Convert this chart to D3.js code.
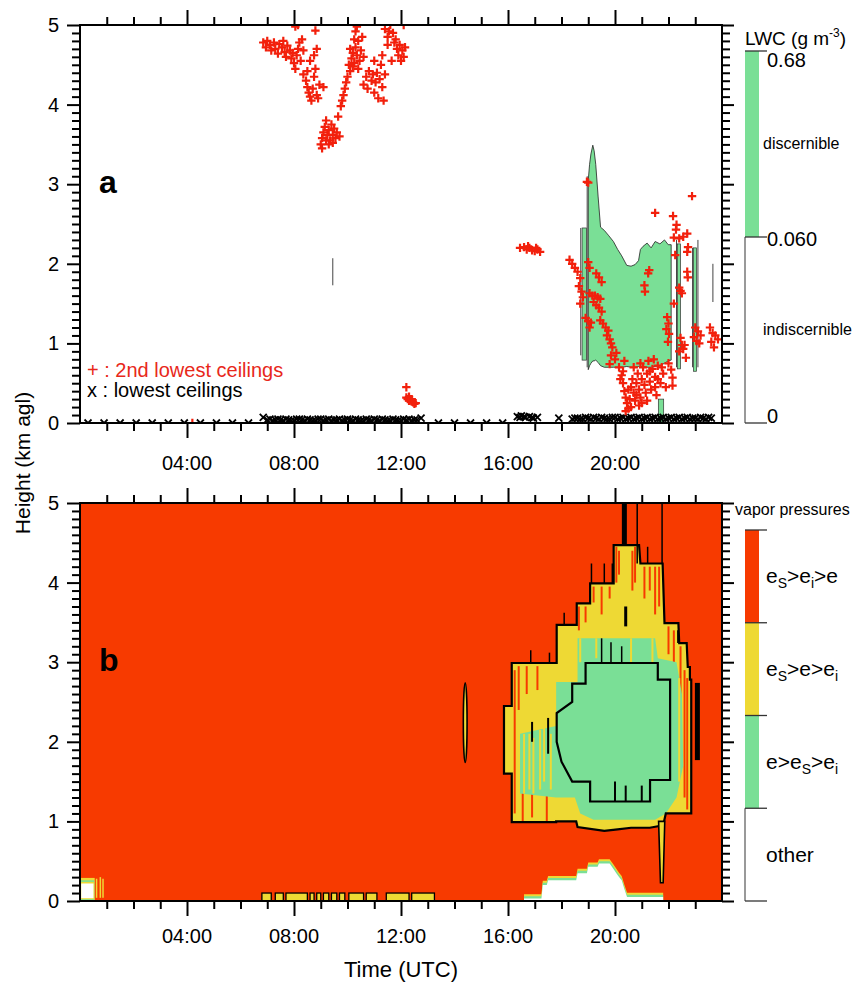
<!DOCTYPE html>
<html>
<head>
<meta charset="utf-8">
<script src="https://cdn.jsdelivr.net/npm/d3@7"></script>
<style>
  body { margin: 0; background: #fff; }
  svg { display: block; font-family: "Liberation Sans", Arial, Helvetica, sans-serif; }
</style>
</head>
<body>
<svg id="chart" width="858" height="983"></svg>
<script>
// ---------- axis ticks ----------
const timeTicks = [4, 8, 12, 16, 20];
const timeLabels = ["04:00", "08:00", "12:00", "16:00", "20:00"];
const heightTicks = [0, 1, 2, 3, 4, 5];

// ---------- panel a: liquid water content (g m-3) ----------
const lwcTime = [19.00, 19.05, 19.10, 19.17, 19.22, 19.28, 19.37, 19.46, 19.60, 19.75, 19.94, 20.10, 20.25, 20.44, 20.60, 20.75, 20.88, 20.95, 21.05, 21.20, 21.35, 21.50, 21.68, 21.85, 21.99, 22.10];
const lwcTop  = [3.05, 3.25, 3.38, 3.49, 3.42, 3.25, 2.84, 2.46, 2.42, 2.36, 2.28, 2.18, 2.10, 1.98, 1.97, 1.99, 2.04, 2.18, 2.22, 2.26, 2.20, 2.28, 2.25, 2.30, 2.24, 2.24];
const lwcBase = [0.67, 0.72, 0.75, 0.78, 0.78, 0.79, 0.76, 0.72, 0.70, 0.70, 0.70, 0.70, 0.70, 0.71, 0.70, 0.70, 0.71, 0.70, 0.71, 0.70, 0.70, 0.71, 0.72, 0.75, 0.78, 0.79];
// narrow cloudy columns: [start, end, base, top]
const lwcColumns = [[18.77, 18.93, 0.79, 2.45], [22.33, 22.45, 0.68, 2.25], [22.93, 23.05, 0.65, 2.20], [21.62, 21.82, 0.0, 0.30]];
// isolated thin returns: [time, base, top]
const lwcTraces = [[9.45, 1.73, 2.07], [23.66, 1.52, 2.0], [18.72, 0.85, 2.45], [18.96, 0.70, 3.10], [22.30, 0.70, 2.30], [22.90, 0.70, 2.20], [23.10, 0.70, 2.30]];

// lowest ceilings [time h, height km]
const ceil1 = [
  [0.3,0],[0.9,0],[1.5,0],[2.1,0],[2.7,0],[3.3,0],[3.9,0],[4.5,0],[5.1,0],[5.7,0],[6.3,0],
  [6.85,0.07],[7.0,0.04],[7.1,0.05],[7.2,0.03],[7.3,0.04],[7.4,0.05],[7.5,0.04],[7.6,0.03],[7.7,0.05],[7.8,0.04],[7.9,0.03],
  [8.0,0.03],[8.1,0.05],[8.2,0.05],[8.3,0.04],[8.4,0.03],[8.5,0.05],[8.6,0.04],[8.7,0.03],[8.8,0.03],[8.9,0.05],
  [9.0,0.05],[9.1,0.03],[9.2,0.04],[9.3,0.05],[9.4,0.03],[9.5,0.04],[9.6,0.04],[9.7,0.05],[9.8,0.03],[9.9,0.04],
  [10.0,0.05],[10.1,0.04],[10.2,0.03],[10.3,0.05],[10.4,0.04],[10.5,0.03],[10.6,0.03],[10.7,0.05],[10.8,0.04],[10.9,0.03],
  [11.0,0.05],[11.1,0.04],[11.2,0.03],[11.3,0.05],[11.4,0.04],[11.5,0.03],[11.6,0.03],[11.7,0.05],[11.8,0.04],[11.9,0.03],
  [12.0,0.03],[12.1,0.05],[12.2,0.04],[12.3,0.05],[12.4,0.03],[12.5,0.04],[12.6,0.04],[12.75,0.06],
  [13.4,0],[14.0,0],[14.6,0],[15.2,0],[15.8,0],
  [16.35,0.08],[16.45,0.07],[16.5,0.09],[16.6,0.08],[16.65,0.07],[16.8,0.08],[16.9,0.07],[16.95,0.06],[17.1,0.07],[17.9,0.06],
  [18.4,0.05],[18.5,0.06],[18.6,0.06],[18.7,0.05],[18.8,0.05],[18.9,0.07],[19.0,0.06],[19.1,0.05],[19.2,0.07],[19.3,0.06],
  [19.4,0.05],[19.5,0.07],[19.6,0.06],[19.7,0.05],[19.8,0.05],[19.9,0.07],[20.0,0.07],[20.1,0.05],[20.2,0.06],[20.3,0.07],
  [20.4,0.05],[20.5,0.06],[20.6,0.07],[20.7,0.05],[20.8,0.06],[20.9,0.07],[21.0,0.05],[21.1,0.06],[21.2,0.07],[21.3,0.05],
  [21.4,0.06],[21.5,0.07],[21.6,0.05],[21.7,0.06],[21.8,0.07],[21.9,0.05],[22.0,0.06],[22.1,0.07],[22.2,0.05],[22.3,0.06],
  [22.4,0.07],[22.5,0.05],[22.6,0.06],[22.7,0.07],[22.8,0.05],[22.9,0.06],[23.0,0.06],[23.1,0.05],[23.2,0.07],[23.3,0.06],
  [23.4,0.05],[23.5,0.07],[23.6,0.06]
];

// 2nd lowest ceilings, morning layer aloft
const ceil2Morning = [
  [6.85,4.78],[6.95,4.72],[7.0,4.80],[7.1,4.75],[7.15,4.68],[7.25,4.78],[7.3,4.70],[7.4,4.64],[7.45,4.76],[7.55,4.72],
  [7.6,4.80],[7.65,4.66],[7.7,4.60],[7.75,4.74],[7.85,4.68],[7.9,4.58],[7.95,4.65],[8.0,4.52],[8.05,4.45],[8.1,4.62],
  [8.15,4.70],[8.2,4.78],[8.25,4.55],[8.3,4.82],[8.35,4.68],[8.05,4.98],[8.15,5.0],
  [8.35,4.38],[8.45,4.30],[8.5,4.22],[8.55,4.15],[8.6,4.10],[8.65,4.05],[8.7,4.20],[8.75,4.35],[8.8,4.45],[8.85,4.12],
  [8.9,4.08],[8.95,4.25],[8.6,4.55],[8.75,4.62],[8.8,4.93],[8.85,4.70],[8.5,4.42],[9.1,4.22],
  [9.0,3.50],[9.05,3.58],[9.1,3.65],[9.15,3.72],[9.2,3.80],[9.25,3.62],[9.3,3.68],[9.35,3.55],[9.4,3.75],[9.45,3.62],
  [9.5,3.70],[9.55,3.58],[9.6,3.65],[9.65,3.85],[9.7,3.60],[9.3,3.50],[9.2,3.55],[9.05,3.45],[9.45,3.52],
  [9.75,3.98],[9.8,4.05],[9.85,4.12],[9.9,4.20],[9.95,4.28],[10.0,4.35],[10.05,4.50],[10.1,4.42],[10.15,4.58],[10.2,4.65],
  [10.25,4.52],[10.3,4.72],[10.35,4.62],[10.4,4.80],[10.45,4.55],[10.5,4.68],[10.3,4.92],[10.55,4.85],[10.2,4.48],[10.6,4.60],
  [10.1,4.70],[10.25,4.82],[10.4,4.45],[10.35,4.98],
  [10.6,4.25],[10.7,4.35],[10.75,4.20],[10.8,4.42],[10.9,4.30],[10.95,4.38],[11.0,4.15],[11.05,4.28],[11.1,4.40],[11.15,4.08],
  [11.2,4.32],[11.25,4.50],[11.3,4.22],[11.35,4.05],[11.4,4.38],[11.0,4.55],[11.3,4.62],
  [11.4,4.95],[11.5,4.85],[11.55,4.92],[11.6,5.0],[11.7,4.90],[11.75,4.78],[11.8,4.82],[11.85,4.70],[11.9,4.62],[11.95,4.75],
  [12.0,4.55],[12.05,4.68],[12.1,4.60],[12.15,4.72],[11.5,4.75],[12.1,5.0],[11.65,4.55]
];
// 2nd lowest ceilings, midday near the surface and at 2 km
const ceil2Midday = [
  [4.2,0.0],[12.2,0.45],[12.2,0.32],[12.25,0.30],[12.3,0.28],[12.35,0.30],[12.4,0.27],[12.45,0.26],[12.5,0.24],[12.55,0.25],
  [12.3,0.33],[12.4,0.30],
  [16.45,2.20],[16.6,2.21],[16.7,2.18],[16.8,2.20],[16.9,2.17],[17.0,2.16],[17.1,2.18],[17.2,2.15],[16.75,2.22],[17.05,2.20]
];
// 2nd lowest ceilings, evening cloud
const ceil2Evening = [
  [18.95,3.03],[19.0,3.02],[22.88,2.85],[21.5,2.64],[22.17,2.60],[22.3,2.49],[22.28,2.43],[22.2,2.33],[22.4,2.32],[22.55,2.34],
  [22.7,2.38],[22.73,2.21],[22.7,2.15],[22.25,2.11],[21.24,1.88],[21.28,1.92],[21.1,1.73],[21.12,1.65],[22.7,1.9],[22.72,1.83],
  [22.4,1.7],[22.45,1.66],[22.5,1.63],[22.2,1.5],[21.95,1.33],[22.0,1.25],[21.92,1.18],[22.02,1.12],[21.98,1.02],[22.45,1.07],
  [22.5,0.98],[22.55,0.93],[22.4,0.9],[22.65,0.82],[22.6,0.98],[23.0,1.2],[23.1,1.15],[23.2,1.1],[22.95,1.08],[23.05,1.03],
  [23.15,1.0],[23.55,1.2],[23.65,1.13],[23.75,1.1],[23.6,1.02],[23.85,1.05],[23.7,0.95],[22.1,0.67],[22.15,0.57],[22.15,0.47],
  [18.3,2.05],[18.4,2.0],[18.5,1.95],[18.6,1.9],[18.7,1.82],[18.65,1.72],[18.75,1.65],[18.8,1.58],[18.7,1.5],[19.0,2.02],
  [19.05,1.95],[19.3,1.88],[19.4,1.83],[19.5,1.77],[19.05,1.63],[19.15,1.6],[19.25,1.6],[19.35,1.58],[19.45,1.56],[19.2,1.52],
  [19.3,1.48],[19.4,1.45],[19.5,1.4],[18.9,1.32],[19.0,1.28],[19.1,1.26],[19.05,1.2],[19.45,1.29],[19.55,1.25],[19.65,1.2],
  [19.75,1.16],[19.7,1.1],[19.8,1.05],[19.85,1.0],[19.9,0.95],[19.85,0.85],[20.0,0.8],[19.8,0.74],[20.05,0.88],
  [20.15,0.70],[20.25,0.60],[20.3,0.50],[20.35,0.40],[20.4,0.32],[20.45,0.25],[20.5,0.18],[20.55,0.30],[20.6,0.45],[20.65,0.55],
  [20.7,0.38],[20.75,0.28],[20.8,0.50],[20.85,0.62],[20.9,0.42],[20.95,0.32],[21.0,0.55],[21.05,0.70],[21.1,0.48],[21.15,0.38],
  [21.2,0.62],[21.25,0.78],[21.3,0.52],[21.35,0.42],[21.4,0.68],[21.45,0.80],[21.5,0.58],[21.55,0.35],[21.6,0.72],[21.7,0.50],
  [21.8,0.62],[21.9,0.45],[22.0,0.75],[20.4,0.15],[20.6,0.20],[20.9,0.22],[21.2,0.28],[21.5,0.45],[20.3,0.65],[20.7,0.70],
  [20.2,0.55],[20.5,0.42],[20.8,0.35],[21.0,0.25],[21.3,0.65],[21.6,0.55],[21.75,0.7],[20.35,0.78],[20.95,0.75]
];

// ---------- panel b: vapor pressure regimes ----------
// outer contour of the supersaturated-over-ice region [time, height]
const outerZone = [
  [16.14,2.99],[17.82,2.99],[17.82,3.47],[18.57,3.47],[18.57,3.74],[19.07,3.74],[19.07,3.99],[19.95,3.99],[19.95,4.47],
  [20.9,4.47],[20.95,4.24],[21.78,4.24],[21.85,3.49],[22.37,3.49],[22.4,3.24],[22.68,3.24],[22.72,2.94],[22.8,2.94],
  [22.8,2.78],[22.85,2.78],[22.85,1.10],[21.9,1.10],[21.8,0.95],[21.3,0.92],[20.6,0.92],[20.1,0.90],[19.6,0.88],
  [18.6,0.93],[18.55,1.0],[17.8,1.0],[17.8,0.99],[16.14,0.99],[16.14,1.6],[15.85,1.6],[15.85,2.45],[16.14,2.45]
];
// band where e > eS inside the outer contour
const ringZone = [
  [16.45,2.1],[17.8,2.2],[17.8,2.75],[18.6,2.75],[18.6,3.3],[21.5,3.3],[21.6,3.05],[22.3,3.0],[22.5,2.6],[22.55,1.7],
  [22.3,1.3],[21.9,1.1],[21.5,1.02],[19.2,1.02],[18.7,1.1],[18.5,1.3],[17.8,1.3],[16.45,1.35]
];
// inner contour of the liquid-saturated core
const innerZone = [
  [18.9,2.99],[21.6,2.99],[21.6,2.78],[22.06,2.78],[22.06,1.52],[21.31,1.52],[21.31,1.25],[19.07,1.25],[19.07,1.5],
  [18.4,1.5],[18.0,1.75],[17.82,2.0],[17.82,2.36],[18.4,2.5],[18.4,2.73],[18.9,2.73]
];
// columns of eS>ei>e inside the outer region [time, base, top]
const subsatStreaks = [
  [16.25,1.1,2.9],[16.4,2.4,2.95],[16.55,1.0,1.6],[16.7,2.6,2.95],[16.9,1.05,1.45],[17.1,2.65,2.95],[17.45,1.0,1.4],
  [18.65,3.4,3.7],[18.9,3.5,3.7],[19.2,3.75,3.95],[19.5,3.6,3.95],[19.8,3.8,3.95],[20.05,4.0,4.45],[20.15,4.1,4.4],
  [20.65,3.9,4.4],[20.75,4.0,4.45],[21.1,3.8,4.2],[21.3,3.9,4.2],[21.5,3.6,4.2],[21.65,3.7,4.2],[22.0,3.1,3.45],
  [22.2,3.0,3.4],[22.45,2.5,3.2],[22.6,1.3,2.9],[22.7,1.15,2.8]
];
// columns of eS>e>ei inside the e>eS band [time, base, top]
const ringGaps = [
  [16.6,1.35,2.1],[16.8,1.4,2.1],[16.95,1.35,2.05],[17.2,1.4,2.15],[17.35,1.5,2.2],[17.6,1.4,2.1],
  [18.7,3.0,3.3],[19.3,3.05,3.3],[20.6,3.0,3.3],[21.4,3.0,3.3],[22.4,1.5,2.8]
];
// contour fragments [time, base, top, weight]
const contourSpikes = [
  [20.35,4.47,5.0,5],[20.83,4.24,5.0,1.5],[21.76,4.24,5.0,1.5],[19.12,3.99,4.24,1.5],[19.6,3.99,4.24,1.5],[19.9,3.99,4.24,1.5],
  [18.1,3.47,3.62,1.5],[17.55,2.99,3.12,1.5],[16.85,2.99,3.15,1.5],[20.4,3.45,3.7,3],[21.22,4.24,4.45,1.5],[22.35,3.24,3.4,1.5],
  [23.08,1.77,2.74,5],[19.5,3.0,3.3,1.5],[19.85,3.0,3.25,1.5],[20.25,3.0,3.2,1.5],[17.5,1.85,2.3,2],[16.9,2.0,2.25,2],
  [20.0,1.25,1.5,2],[20.4,1.25,1.45,2],[21.0,1.25,1.45,2]
];
// narrow tongue reaching the surface at 21.7 h
const tongueZone = [[21.63,1.0],[21.7,0.23],[21.8,0.23],[21.86,1.0]];
// isolated cell at 14.4 h
const isolatedCell = { t: 14.4, base: 1.74, top: 2.74, halfWidth: 0.07 };
// "other" region near the surface in the evening
const humpTime   = [16.6, 17.25, 17.3, 17.45, 17.5, 18.55, 18.6, 18.95, 19.0, 19.35, 19.4, 19.8, 19.95, 20.05, 20.15, 20.25, 20.35, 20.45, 21.8];
const humpHeight = [0.03, 0.03, 0.20, 0.20, 0.26, 0.26, 0.35, 0.35, 0.43, 0.43, 0.47, 0.47, 0.40, 0.35, 0.30, 0.26, 0.15, 0.05, 0.05];
// "other" region just after midnight
const earlyCell = { t0: 0.05, t1: 0.55, top: 0.29 };
const earlyStreaks = [[0.62, 0.04, 0.28], [0.76, 0.04, 0.3], [0.86, 0.04, 0.28]];
// shallow eS>e>ei layer at the surface [start, end]
const surfaceLayer = [[6.8,7.15],[7.3,7.6],[7.7,8.5],[8.6,8.75],[8.85,9.0],[9.1,9.3],[9.4,9.6],[9.7,9.9],[10.05,10.6],[10.7,11.1],[11.45,12.3],[12.4,13.25]];

// ---------- legend classes ----------
const lwcBounds = ["0", "0.060", "0.68"];
const lwcClasses = ["indiscernible", "discernible"];
const vaporClasses = [
  [["other", 0]],
  [["e>e", 0], ["S", 1], [">e", 0], ["i", 1]],
  [["e", 0], ["S", 1], [">e>e", 0], ["i", 1]],
  [["e", 0], ["S", 1], [">e", 0], ["i", 1], [">e", 0]]
];

// ---------- drawing ----------
const RED = "#f73a00", YEL = "#eed934", GRN = "#7adf96", CROSS = "#f2200c";
const svg = d3.select("#chart");
const x = d3.scaleLinear().domain([0, 24]).range([80, 722]);
const yA = d3.scaleLinear().domain([0, 5]).range([423, 25]);
const yB = d3.scaleLinear().domain([0, 5]).range([901, 503]);

const defs = svg.append("defs");
function addClip(id, y) {
  defs.append("clipPath").attr("id", id).append("rect")
    .attr("x", x(0)).attr("y", y(5)).attr("width", x(24) - x(0)).attr("height", y(0) - y(5));
}
addClip("clipA", yA);
addClip("clipB", yB);

function vline(g, t, h0, h1, y, color, w) {
  g.append("line").attr("x1", x(t)).attr("x2", x(t)).attr("y1", y(h0)).attr("y2", y(h1))
    .attr("stroke", color).attr("stroke-width", w);
}

// ----- panel a -----
const gA = svg.append("g").attr("clip-path", "url(#clipA)");
const lwcArea = d3.area().x(d => x(d[0])).y0(d => yA(d[2])).y1(d => yA(d[1]));
gA.append("path").datum(d3.zip(lwcTime, lwcTop, lwcBase)).attr("d", lwcArea)
  .attr("fill", GRN).attr("stroke", "#222").attr("stroke-width", 0.8);
gA.selectAll("rect.col").data(lwcColumns).join("rect").attr("class", "col")
  .attr("x", d => x(d[0])).attr("width", d => x(d[1]) - x(d[0]))
  .attr("y", d => yA(d[3])).attr("height", d => yA(d[2]) - yA(d[3]))
  .attr("fill", GRN).attr("stroke", "#333").attr("stroke-width", 0.7);
lwcTraces.forEach(d => vline(gA, d[0], d[1], d[2], yA, "#444", 1));

gA.selectAll("path.c1").data(ceil1).join("path").attr("class", "c1")
  .attr("transform", d => `translate(${x(d[0])},${yA(d[1])})`)
  .attr("d", "M-3.5,-3.5L3.5,3.5M-3.5,3.5L3.5,-3.5")
  .attr("stroke", "#000").attr("stroke-width", 1.8);
gA.selectAll("path.c2").data(ceil2Morning.concat(ceil2Midday, ceil2Evening)).join("path").attr("class", "c2")
  .attr("transform", d => `translate(${x(d[0])},${yA(d[1])})`)
  .attr("d", "M-4.2,0H4.2M0,-4.2V4.2")
  .attr("stroke", CROSS).attr("stroke-width", 2.2);

svg.append("text").attr("x", 87).attr("y", 377).attr("font-size", 20).attr("fill", "#e8281a")
  .text("+ : 2nd lowest ceilings");
svg.append("text").attr("x", 87).attr("y", 397).attr("font-size", 20).attr("fill", "#000")
  .text("x : lowest ceilings");
svg.append("text").attr("x", 99).attr("y", 193).attr("font-size", 32).attr("font-weight", "bold").text("a");

// ----- panel b -----
const gB = svg.append("g").attr("clip-path", "url(#clipB)");
gB.append("rect").attr("x", x(0)).attr("y", yB(5)).attr("width", x(24) - x(0)).attr("height", yB(0) - yB(5)).attr("fill", RED);

// early-morning "other" block
[[YEL, 0, 0], [GRN, 0.015, 0.03], [YEL, 0.03, 0.05], ["#fff", 0.045, 0.07]].forEach(([c, dt, dh]) => {
  gB.append("rect").attr("x", x(earlyCell.t0 - 0.05 + dt)).attr("width", x(earlyCell.t1 - dt) - x(earlyCell.t0 - 0.05 + dt))
    .attr("y", yB(earlyCell.top - dh)).attr("height", yB(dh * 0.5) - yB(earlyCell.top - dh)).attr("fill", c);
});
earlyStreaks.forEach(d => vline(gB, d[0], d[1], d[2], yB, YEL, 1.5));

// surface layer
gB.selectAll("rect.sl").data(surfaceLayer).join("rect").attr("class", "sl")
  .attr("x", d => x(d[0])).attr("width", d => x(d[1]) - x(d[0]))
  .attr("y", yB(0.1)).attr("height", yB(0) - yB(0.1))
  .attr("fill", YEL).attr("stroke", "#000").attr("stroke-width", 1.3);

// evening "other" hump with thin transition layers on top
const humpData = d3.zip(humpTime, humpHeight);
[[YEL, 0.055], [GRN, 0.03], ["#fff", 0]].forEach(([c, off]) => {
  gB.append("path").datum(humpData)
    .attr("d", d3.area().x(d => x(d[0])).y0(yB(0)).y1(d => yB(d[1] + off)))
    .attr("fill", c);
});

const poly = d3.line().x(d => x(d[0])).y(d => yB(d[1]));
gB.append("path").attr("d", poly(outerZone) + "Z").attr("fill", YEL);
subsatStreaks.forEach(d => vline(gB, d[0], d[1], d[2], yB, RED, 2));
gB.append("path").attr("d", poly(ringZone) + "Z").attr("fill", GRN);
ringGaps.forEach(d => vline(gB, d[0], d[1], d[2], yB, YEL, 2));
gB.append("path").attr("d", poly(innerZone) + "Z").attr("fill", GRN);
gB.append("path").attr("d", poly(outerZone) + "Z").attr("fill", "none").attr("stroke", "#000").attr("stroke-width", 2.2);
gB.append("path").attr("d", poly(innerZone) + "Z").attr("fill", "none").attr("stroke", "#000").attr("stroke-width", 2.2);
contourSpikes.forEach(d => vline(gB, d[0], d[1], d[2], yB, "#000", d[3]));
gB.append("path").attr("d", poly(tongueZone) + "Z").attr("fill", YEL).attr("stroke", "#000").attr("stroke-width", 1.6);
gB.append("ellipse")
  .attr("cx", x(isolatedCell.t)).attr("cy", yB((isolatedCell.base + isolatedCell.top) / 2))
  .attr("rx", x(isolatedCell.t + isolatedCell.halfWidth) - x(isolatedCell.t))
  .attr("ry", (yB(isolatedCell.base) - yB(isolatedCell.top)) / 2)
  .attr("fill", YEL).attr("stroke", "#000").attr("stroke-width", 1.6);

svg.append("text").attr("x", 99).attr("y", 671).attr("font-size", 32).attr("font-weight", "bold").text("b");

// ----- axes and frames -----
const minorT = d3.range(1, 24).filter(t => t % 4 !== 0);
const minorH = d3.range(0, 51).map(i => i / 10).filter(h => Math.abs(h - Math.round(h)) > 1e-6);
function tickAxis(g, axis, vals, size) {
  const a = g.append("g").call(axis.tickValues(vals).tickSize(size).tickFormat(""));
  a.select(".domain").remove();
  a.selectAll(".tick line").attr("stroke", "#000").attr("stroke-width", 2);
}
function drawAxes(y, labelDrop) {
  const g = svg.append("g");
  const bottom = g.append("g").attr("transform", `translate(0,${y(0)})`);
  tickAxis(bottom, d3.axisBottom(x), minorT, 8);
  tickAxis(bottom, d3.axisBottom(x), timeTicks, 15);
  const top = g.append("g").attr("transform", `translate(0,${y(5)})`);
  tickAxis(top, d3.axisTop(x), minorT, 8);
  tickAxis(top, d3.axisTop(x), timeTicks, 15);
  const left = g.append("g").attr("transform", `translate(${x(0)},0)`);
  tickAxis(left, d3.axisLeft(y), minorH, 8);
  tickAxis(left, d3.axisLeft(y), heightTicks, 13);
  const right = g.append("g").attr("transform", `translate(${x(24)},0)`);
  tickAxis(right, d3.axisRight(y), minorH, 8);
  tickAxis(right, d3.axisRight(y), heightTicks, 12);
  g.append("rect").attr("x", x(0)).attr("y", y(5)).attr("width", x(24) - x(0)).attr("height", y(0) - y(5))
    .attr("fill", "none").attr("stroke", "#000").attr("stroke-width", 2);
  g.selectAll("text.tl").data(timeTicks).join("text").attr("class", "tl")
    .attr("x", d => x(d)).attr("y", y(0) + labelDrop).attr("text-anchor", "middle").attr("font-size", 20)
    .text((d, i) => timeLabels[i]);
  g.selectAll("text.hl").data(heightTicks).join("text").attr("class", "hl")
    .attr("x", 59).attr("y", d => y(d) + 7).attr("text-anchor", "end").attr("font-size", 20)
    .text(d => d);
}
drawAxes(yA, 47);
drawAxes(yB, 42);

svg.append("text").attr("transform", "translate(30,463) rotate(-90)").attr("text-anchor", "middle")
  .attr("font-size", 21).text("Height (km agl)");
svg.append("text").attr("x", 401).attr("y", 977).attr("text-anchor", "middle").attr("font-size", 22).text("Time (UTC)");

// ----- colour bars -----
const barX = 745, barW = 14, tickEnd = 767;
// LWC bar
const lwcBar = d3.scaleLinear().domain([0, 2]).range([423, 51]);
const lb = svg.append("g");
lb.append("rect").attr("x", barX).attr("y", lwcBar(2)).attr("width", barW).attr("height", lwcBar(1) - lwcBar(2)).attr("fill", GRN);
lb.append("line").attr("x1", barX).attr("x2", barX).attr("y1", lwcBar(1)).attr("y2", lwcBar(0)).attr("stroke", "#555").attr("stroke-width", 1.2);
lwcBounds.forEach((lab, i) => {
  lb.append("line").attr("x1", barX).attr("x2", tickEnd).attr("y1", lwcBar(i)).attr("y2", lwcBar(i)).attr("stroke", "#333").attr("stroke-width", 1.3);
  const dy = i === 2 ? 16 : (i === 1 ? 9 : 0);
  lb.append("text").attr("x", 767).attr("y", lwcBar(i) + dy).attr("font-size", 20).text(lab);
});
lwcClasses.forEach((lab, i) => {
  lb.append("text").attr("x", 763).attr("y", (lwcBar(i) + lwcBar(i + 1)) / 2 + 5).attr("font-size", 16).text(lab);
});
const title = lb.append("text").attr("x", 745).attr("y", 45).attr("font-size", 19);
title.append("tspan").text("LWC (g m");
title.append("tspan").attr("font-size", 12).attr("dy", -8).text("-3");
title.append("tspan").attr("dy", 8).text(")");

// vapor pressure bar
const vpBar = d3.scaleLinear().domain([0, 4]).range([901, 530]);
const vb = svg.append("g");
const vpColors = ["#fff", GRN, YEL, RED];
vaporClasses.forEach((parts, i) => {
  vb.append("rect").attr("x", barX).attr("y", vpBar(i + 1)).attr("width", barW).attr("height", vpBar(i) - vpBar(i + 1)).attr("fill", vpColors[i]);
  const t = vb.append("text").attr("x", 766).attr("y", (vpBar(i) + vpBar(i + 1)) / 2 + 7).attr("font-size", 21);
  let low = false;
  parts.forEach(([s, sub]) => {
    const sp = t.append("tspan").text(s);
    if (sub && !low) { sp.attr("dy", 5).attr("font-size", 14); low = true; }
    else if (sub) { sp.attr("font-size", 14); }
    else if (low) { sp.attr("dy", -5); low = false; }
  });
});
vb.append("line").attr("x1", barX).attr("x2", barX).attr("y1", vpBar(1)).attr("y2", vpBar(0)).attr("stroke", "#555").attr("stroke-width", 1.2);
d3.range(0, 5).forEach(i => {
  vb.append("line").attr("x1", barX).attr("x2", tickEnd).attr("y1", vpBar(i)).attr("y2", vpBar(i)).attr("stroke", "#333").attr("stroke-width", 1.3);
});
vb.append("text").attr("x", 735).attr("y", 515).attr("font-size", 16).text("vapor pressures");
</script>
</body>
</html>
